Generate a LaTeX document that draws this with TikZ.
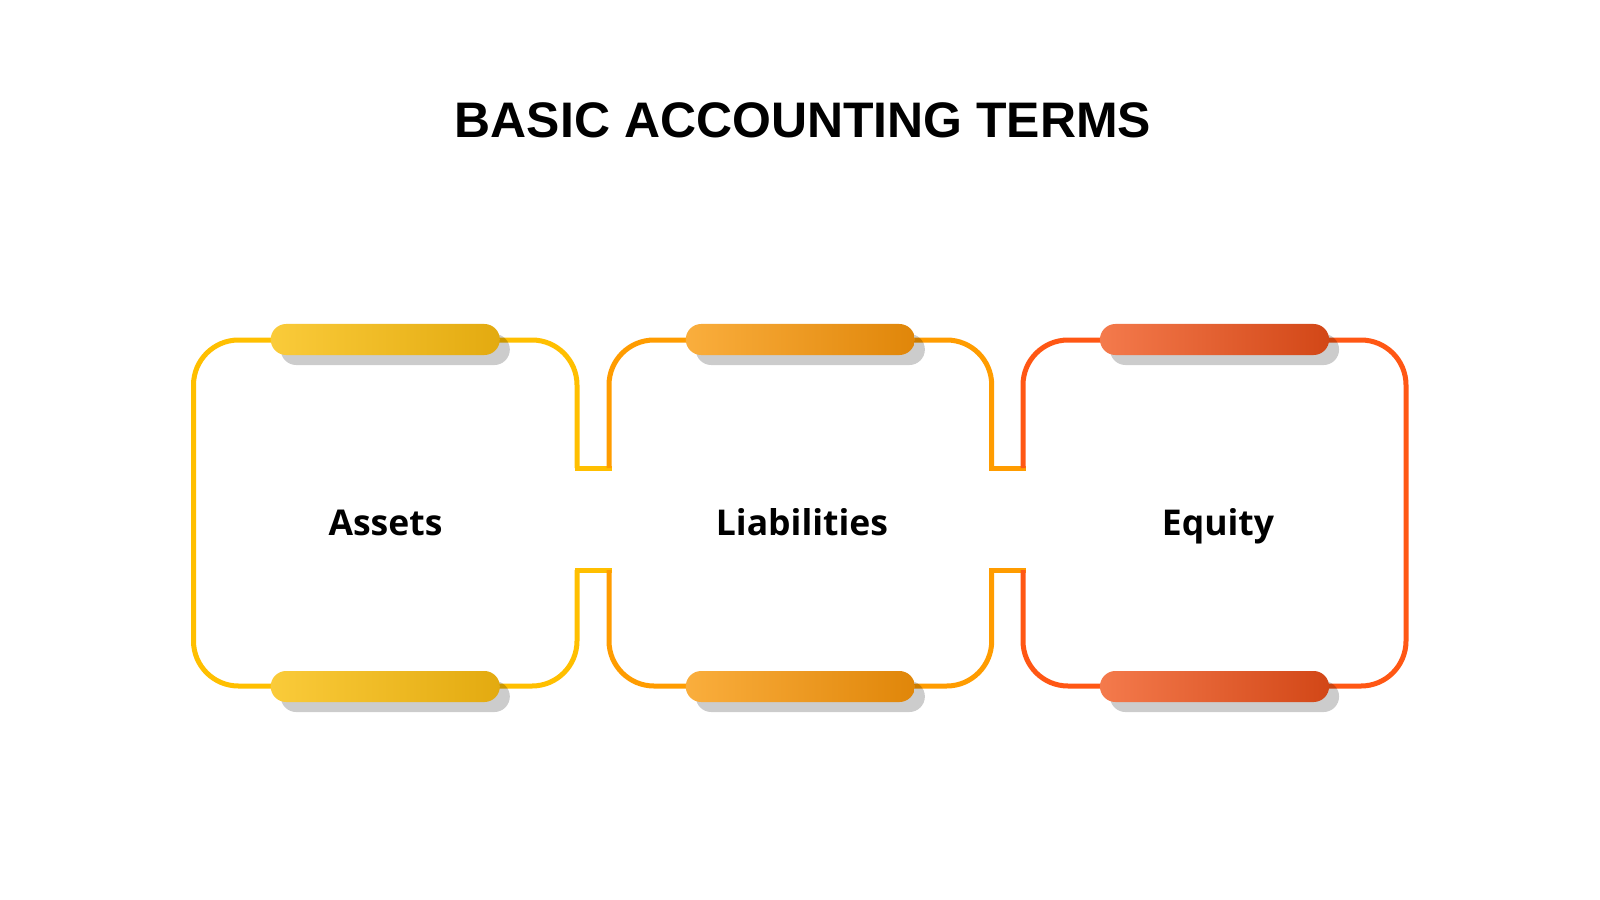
\documentclass[tikz,border=0pt]{standalone}
\usepackage{fontspec}
\setmainfont{Liberation Sans}
\newfontfamily\labelfont{Open Sans}
\usepackage{xcolor}
\usepackage{tikz}
\usetikzlibrary{positioning,shadows}
\definecolor{goldline}{HTML}{FFBF00}
\definecolor{goldlight}{HTML}{FACB3A}
\definecolor{golddark}{HTML}{E3AA10}
\definecolor{orangeline}{HTML}{FF9C00}
\definecolor{orangelight}{HTML}{FAAE3D}
\definecolor{orangedark}{HTML}{E08609}
\definecolor{redline}{HTML}{FF5714}
\definecolor{redlight}{HTML}{F47A4C}
\definecolor{reddark}{HTML}{D24717}
\tikzset{
  frameline/.style={line width=0.05cm, rounded corners=0.45cm},
  notchline/.style={line width=0.05cm, line cap=rect},
  tagbar/.style={rectangle, rounded corners=0.155cm, minimum width=2.29cm,
                 minimum height=0.31cm, inner sep=0pt,
                 drop shadow={shadow xshift=0.1cm, shadow yshift=-0.1cm,
                              fill=black, opacity=0.2}},
  termlabel/.style={anchor=base, inner sep=0pt,
                    font=\labelfont\bfseries\fontsize{10.1pt}{12pt}\selectfont}
}

\begin{document}
\begin{tikzpicture}[x=0.01cm, y=-0.01cm]
    \fill[white] (0,0) rectangle (1600,900);
    \useasboundingbox (0,0) rectangle (1600,900);

    \node[anchor=base, inner sep=0pt, font=\bfseries\fontsize{14.2pt}{17pt}\selectfont]
         (title) at (803,137) {BASIC ACCOUNTING TERMS};

    % frames
    \draw[frameline, goldline] (577,468) -- (577,340) -- (193.5,340) -- (193.5,686) -- (577,686) -- (577,570);
    \draw[notchline, goldline] (577,468) -- (609,468);
    \draw[notchline, goldline] (577,570) -- (609,570);

    \draw[frameline, orangeline] (609,468) -- (609,340) -- (991.7,340) -- (991.7,468);
    \draw[frameline, orangeline] (609,570) -- (609,686) -- (991.7,686) -- (991.7,570);
    \draw[notchline, orangeline] (991.7,468) -- (1023,468);
    \draw[notchline, orangeline] (991.7,570) -- (1023,570);

    \draw[frameline, redline] (1023,468) -- (1023,340) -- (1406,340) -- (1406,686) -- (1023,686) -- (1023,570);

    % bars
    \foreach \cx/\tag/\cl/\cr in {385.25/assets/goldlight/golddark,
                                  800.3/liabilities/orangelight/orangedark,
                                  1214.5/equity/redlight/reddark}{
      \node[tagbar, left color=\cl, right color=\cr] (\tag top) at (\cx,339.5) {};
      \node[tagbar, left color=\cl, right color=\cr] (\tag bottom) at (\cx,686.5) {};
    }

    \node[termlabel] (assets) at (385.5,535) {Assets};
    \node[termlabel] (liabilities) at (802,535) {Liabilities};
    \node[termlabel] (equity) at (1218,535) {Equity};
\end{tikzpicture}
\end{document}
